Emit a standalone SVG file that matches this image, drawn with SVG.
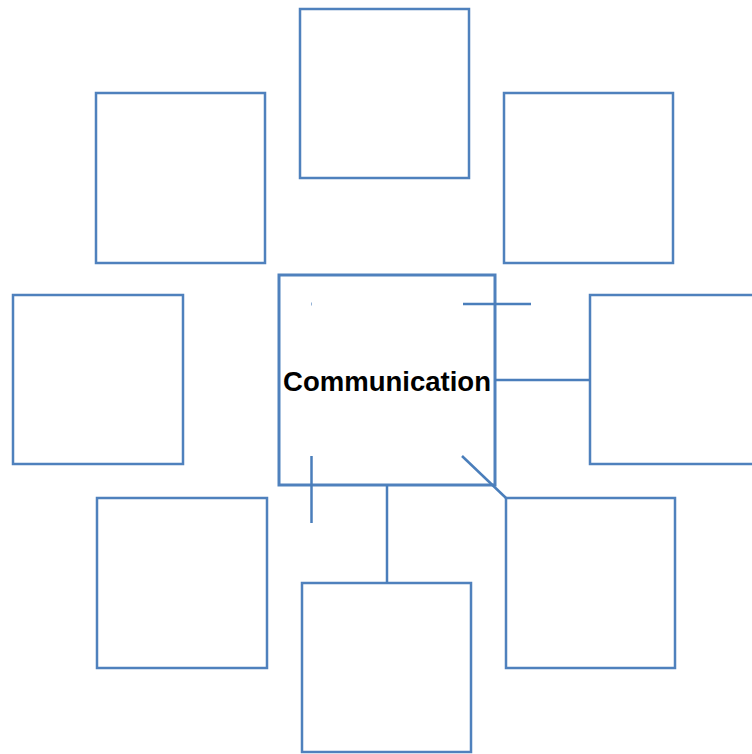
<svg xmlns="http://www.w3.org/2000/svg" width="752" height="754" viewBox="0 0 752 754">
<style>
.box{fill:#fff;stroke:#4F81BD;stroke-width:2.5}
.center{fill:#fff;stroke:#4F81BD;stroke-width:3}
.conn{stroke:#4A7EBB;stroke-width:2.5;fill:none}
.lbl{font-family:"Liberation Sans",Arial,sans-serif;font-weight:bold;font-size:27.5px;fill:#000}
</style>
<rect width="752" height="754" fill="#fff"/>
<g id="top"><rect class="box" x="300" y="9" width="169" height="169"/></g>
<g id="upper-left"><rect class="box" x="96" y="93" width="169" height="170"/></g>
<g id="upper-right"><rect class="box" x="504" y="93" width="169" height="170"/></g>
<g id="left"><rect class="box" x="13" y="295" width="170" height="169"/></g>
<g id="right"><rect class="box" x="590" y="295" width="170" height="169"/></g>
<g id="lower-left"><rect class="box" x="97" y="498" width="170" height="170"/></g>
<g id="lower-right"><rect class="box" x="506" y="498" width="169" height="170"/></g>
<g id="bottom"><rect class="box" x="302" y="583" width="169" height="169"/></g>
<g id="center">
<rect class="center" x="279" y="275" width="216" height="210"/>
<text class="lbl" x="387" y="391" text-anchor="middle" textLength="208" lengthAdjust="spacingAndGlyphs">Communication</text>
</g>
<g id="connectors">
<line class="conn" x1="463" y1="304" x2="531" y2="304"/>
<line class="conn" x1="495" y1="380" x2="590" y2="380"/>
<line class="conn" x1="462" y1="456" x2="506" y2="498"/>
<line class="conn" x1="311.5" y1="456" x2="311.5" y2="523"/>
<line class="conn" x1="387" y1="485" x2="387" y2="583"/>
<line stroke="#4F81BD" stroke-width="1" opacity="0.6" x1="311.5" y1="302.5" x2="311.5" y2="305.5"/>
</g>
</svg>
